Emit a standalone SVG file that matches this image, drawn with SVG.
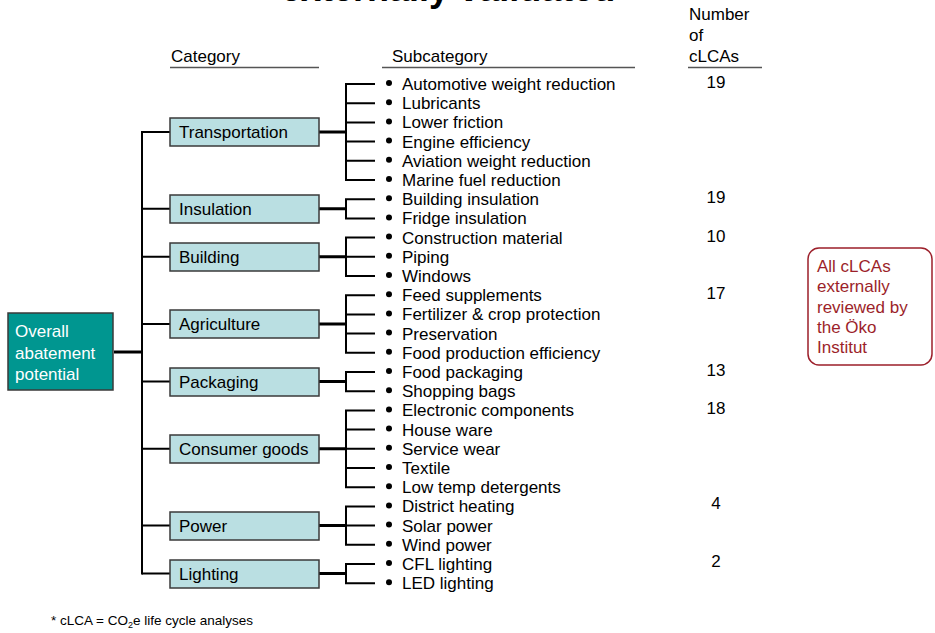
<svg xmlns="http://www.w3.org/2000/svg" width="935" height="633" viewBox="0 0 935 633">
<style>
text{font-family:"Liberation Sans",Arial,sans-serif;font-size:17px;fill:#000}
.title{font-weight:bold;font-size:36px}
.cat rect{fill:#BADFE2;stroke:#3a3a3a;stroke-width:1.5}
.root rect{fill:#009690;stroke:#3a3a3a;stroke-width:1.5}
.root text{fill:#fff}
.hdr{stroke:#555;stroke-width:1.5}
.ln{stroke:#000;stroke-width:2;fill:none}
.thick{stroke:#000;stroke-width:3;fill:none}
.bul{fill:#000}
.num{text-anchor:middle}
.note rect{fill:#fff;stroke:#9C1F2A;stroke-width:1.5}
.note text{fill:#9C1F2A}
.foot{font-size:13.5px}
.sub{font-size:9px}
</style>
<text class="title" x="281" y="1">externally validated</text>

<g id="headers">
<text x="171" y="62">Category</text>
<line class="hdr" x1="170" y1="67.5" x2="319" y2="67.5"/>
<text x="392" y="62">Subcategory</text>
<line class="hdr" x1="382" y1="67.5" x2="635" y2="67.5"/>
<text x="689" y="20">Number</text>
<text x="689" y="41">of</text>
<text x="689" y="62">cLCAs</text>
<line class="hdr" x1="688" y1="67.5" x2="762" y2="67.5"/>
</g>

<g id="connectors">
<line class="thick" x1="114" y1="352" x2="143" y2="352"/>
<line class="ln" x1="142" y1="131" x2="142" y2="574.6"/>
<path class="ln" d="M142 132H170M142 208.8H170M142 256.8H170M142 324H170M142 381.6H170M142 448.8H170M142 525.6H170M142 573.6H170"/>
<path class="thick" d="M319 132H346M319 208.8H346M319 256.8H346M319 324H346M319 381.6H346M319 448.8H346M319 525.6H346M319 573.6H346"/>
<path class="ln" d="M375 84H346V180H375M346 103.2H375M346 122.4H375M346 141.6H375M346 160.8H375"/>
<path class="ln" d="M375 199.2H346V218.4H375"/>
<path class="ln" d="M375 237.6H346V276H375M346 256.8H375"/>
<path class="ln" d="M375 295.2H346V352.8H375M346 314.4H375M346 333.6H375"/>
<path class="ln" d="M375 372H346V391.2H375"/>
<path class="ln" d="M375 410.4H346V487.2H375M346 429.6H375M346 448.8H375M346 468H375"/>
<path class="ln" d="M375 506.4H346V544.8H375M346 525.6H375"/>
<path class="ln" d="M375 564H346V583.2H375"/>
</g>

<g id="root" class="root">
<rect x="8" y="313" width="105" height="77"/>
<text x="15" y="337">Overall</text>
<text x="15" y="359">abatement</text>
<text x="15" y="380">potential</text>
</g>

<g id="cat-transportation" class="cat"><rect x="170" y="118" width="149" height="28"/><text x="179" y="138">Transportation</text></g>
<g id="cat-insulation" class="cat"><rect x="170" y="195" width="149" height="28"/><text x="179" y="215">Insulation</text></g>
<g id="cat-building" class="cat"><rect x="170" y="243" width="149" height="28"/><text x="179" y="263">Building</text></g>
<g id="cat-agriculture" class="cat"><rect x="170" y="310" width="149" height="28"/><text x="179" y="330">Agriculture</text></g>
<g id="cat-packaging" class="cat"><rect x="170" y="368" width="149" height="28"/><text x="179" y="388">Packaging</text></g>
<g id="cat-consumer" class="cat"><rect x="170" y="435" width="149" height="28"/><text x="179" y="455">Consumer goods</text></g>
<g id="cat-power" class="cat"><rect x="170" y="512" width="149" height="28"/><text x="179" y="532">Power</text></g>
<g id="cat-lighting" class="cat"><rect x="170" y="560" width="149" height="28"/><text x="179" y="580">Lighting</text></g>

<g id="subcategories">
<g class="bul">
<circle cx="389" cy="83" r="3"/><circle cx="389" cy="102.2" r="3"/><circle cx="389" cy="121.4" r="3"/><circle cx="389" cy="140.6" r="3"/><circle cx="389" cy="159.8" r="3"/><circle cx="389" cy="179" r="3"/>
<circle cx="389" cy="198.2" r="3"/><circle cx="389" cy="217.4" r="3"/>
<circle cx="389" cy="236.6" r="3"/><circle cx="389" cy="255.8" r="3"/><circle cx="389" cy="275" r="3"/>
<circle cx="389" cy="294.2" r="3"/><circle cx="389" cy="313.4" r="3"/><circle cx="389" cy="332.6" r="3"/><circle cx="389" cy="351.8" r="3"/>
<circle cx="389" cy="371" r="3"/><circle cx="389" cy="390.2" r="3"/>
<circle cx="389" cy="409.4" r="3"/><circle cx="389" cy="428.6" r="3"/><circle cx="389" cy="447.8" r="3"/><circle cx="389" cy="467" r="3"/><circle cx="389" cy="486.2" r="3"/>
<circle cx="389" cy="505.4" r="3"/><circle cx="389" cy="524.6" r="3"/><circle cx="389" cy="543.8" r="3"/>
<circle cx="389" cy="563" r="3"/><circle cx="389" cy="582.2" r="3"/>
</g>
<text x="402" y="90">Automotive weight reduction</text>
<text x="402" y="109.2">Lubricants</text>
<text x="402" y="128.4">Lower friction</text>
<text x="402" y="147.6">Engine efficiency</text>
<text x="402" y="166.8">Aviation weight reduction</text>
<text x="402" y="186">Marine fuel reduction</text>
<text x="402" y="205.2">Building insulation</text>
<text x="402" y="224.4">Fridge insulation</text>
<text x="402" y="243.6">Construction material</text>
<text x="402" y="262.8">Piping</text>
<text x="402" y="282">Windows</text>
<text x="402" y="301.2">Feed supplements</text>
<text x="402" y="320.4">Fertilizer &amp; crop protection</text>
<text x="402" y="339.6">Preservation</text>
<text x="402" y="358.8">Food production efficiency</text>
<text x="402" y="378">Food packaging</text>
<text x="402" y="397.2">Shopping bags</text>
<text x="402" y="416.4">Electronic components</text>
<text x="402" y="435.6">House ware</text>
<text x="402" y="454.8">Service wear</text>
<text x="402" y="474">Textile</text>
<text x="402" y="493.2">Low temp detergents</text>
<text x="402" y="512.4">District heating</text>
<text x="402" y="531.6">Solar power</text>
<text x="402" y="550.8">Wind power</text>
<text x="402" y="570">CFL lighting</text>
<text x="402" y="589.2">LED lighting</text>
</g>

<g id="counts">
<text class="num" x="716" y="88">19</text>
<text class="num" x="716" y="203.2">19</text>
<text class="num" x="716" y="241.6">10</text>
<text class="num" x="716" y="299.2">17</text>
<text class="num" x="716" y="376">13</text>
<text class="num" x="716" y="414.4">18</text>
<text class="num" x="716" y="509.4">4</text>
<text class="num" x="716" y="567">2</text>
</g>

<g id="note" class="note">
<rect x="808" y="248" width="124" height="117" rx="11"/>
<text x="817" y="272">All cLCAs</text>
<text x="817" y="292">externally</text>
<text x="817" y="313">reviewed by</text>
<text x="817" y="333">the Öko</text>
<text x="817" y="353">Institut</text>
</g>

<text class="foot" x="51" y="625">*  cLCA = CO<tspan class="sub" dy="3">2</tspan><tspan dy="-3">e life cycle analyses</tspan></text>
</svg>
